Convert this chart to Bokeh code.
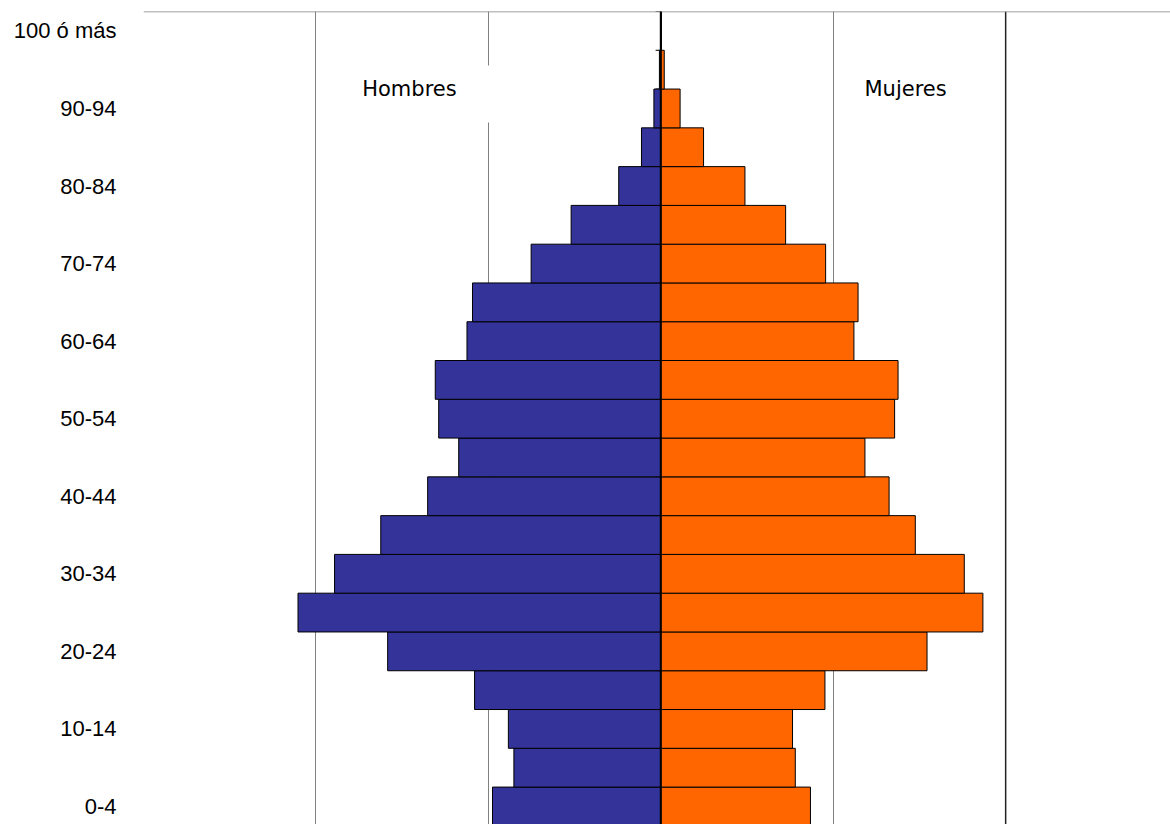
from bokeh.plotting import figure
from bokeh.models import ColumnDataSource, Range1d, FixedTicker, Span, Label, BoxAnnotation
from bokeh.embed import file_html
from bokeh.resources import INLINE

# ---- data (percent of total population) ----
categories = ["0-4", "5-9", "10-14", "15-19", "20-24", "25-29", "30-34", "35-39",
              "40-44", "45-49", "50-54", "55-59", "60-64", "65-69", "70-74",
              "75-79", "80-84", "85-89", "90-94", "95-99", "100 ó más"]
hombres = [2.44, 2.13, 2.21, 2.70, 3.96, 5.26, 4.73, 4.06, 3.38, 2.93, 3.22,
           3.27, 2.81, 2.73, 1.88, 1.30, 0.61, 0.28, 0.10, 0.02, 0.00]
mujeres = [2.17, 1.95, 1.91, 2.38, 3.86, 4.67, 4.40, 3.69, 3.31, 2.96, 3.39,
           3.44, 2.80, 2.86, 2.39, 1.81, 1.22, 0.62, 0.28, 0.05, 0.01]
grid_values = [-7.5, -5.0, -2.5, 2.5]
dark_grid_values = [5.0]

idx = list(range(len(categories)))
src = ColumnDataSource(dict(
    y=idx,
    men_left=[-v for v in hombres],
    women_right=mujeres,
    zero=[0.0] * len(idx),
))

p = figure(width=1170, height=824, output_backend="svg", toolbar_location=None,
           x_range=Range1d(-7.5, 7.39), y_range=Range1d(-0.465, 20.5),
           min_border_left=143, min_border_right=0, min_border_top=11,
           min_border_bottom=0)
p.outline_line_color = None
p.background_fill_color = "white"
p.border_fill_color = "white"

# axes
p.xaxis.visible = False
p.ygrid.grid_line_color = None
p.xgrid.ticker = FixedTicker(ticks=grid_values)
p.xgrid.grid_line_color = "#808080"
p.xgrid.grid_line_width = 1

yax = p.yaxis[0]
yax.ticker = FixedTicker(ticks=idx[::2])
yax.major_label_overrides = {i: categories[i] for i in idx}
yax.axis_line_color = None
yax.major_tick_line_color = None
yax.minor_tick_line_color = None
yax.major_tick_in = 0
yax.major_tick_out = 0
yax.major_label_standoff = 27
yax.major_label_text_font = "Liberation Sans"
yax.major_label_text_font_size = "22px"
yax.major_label_text_color = "black"

for gv in dark_grid_values:
    p.add_layout(Span(location=gv, dimension="height", line_color="#222222", line_width=1.5))

# top border
p.add_layout(Span(location=20.5, dimension="width", line_color="#808080", line_width=1.5))

# small ticks on the central axis at category boundaries
bounds = [i + 0.5 for i in range(-1, len(categories))]
p.segment(x0=[-0.075] * len(bounds), x1=[0] * len(bounds), y0=bounds, y1=bounds,
          line_color="black", line_width=1)

# bars
p.hbar(y="y", left="men_left", right="zero", height=1.0, source=src,
       fill_color="#333399", line_color="black", line_width=1)
p.hbar(y="y", left="zero", right="women_right", height=1.0, source=src,
       fill_color="#FF6600", line_color="black", line_width=1)

# central axis line
p.add_layout(Span(location=0, dimension="height", line_color="black", line_width=2))

# white text box behind "Hombres"
p.add_layout(BoxAnnotation(left=-4.906, right=-2.354, bottom=17.638, top=19.108,
                           fill_color="white", fill_alpha=1.0, line_color=None))

# labels
p.add_layout(Label(x=-3.644, y=18.49, text="Hombres", text_align="center",
                   text_baseline="middle", text_font="DejaVu Sans",
                   text_font_size="21px", text_color="black"))
p.add_layout(Label(x=3.549, y=18.49, text="Mujeres", text_align="center",
                   text_baseline="middle", text_font="DejaVu Sans",
                   text_font_size="21px", text_color="black"))

open("out.html", "w").write(file_html(p, INLINE))
